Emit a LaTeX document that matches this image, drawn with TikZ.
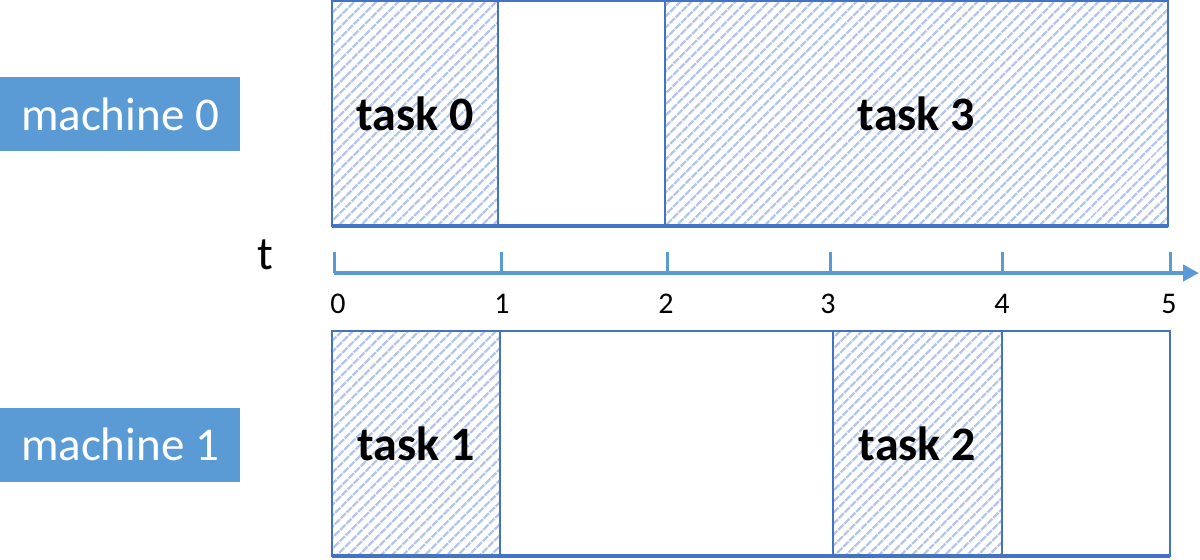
\documentclass[tikz,border=0pt]{standalone}
\usepackage{fontspec}
\setmainfont{Carlito}
\usetikzlibrary{positioning,patterns.meta,arrows.meta}
\definecolor{boxblue}{HTML}{5B9BD5}
\definecolor{edgeblue}{HTML}{4472C4}
\definecolor{hatchblue}{HTML}{B4C7E7}
\tikzset{
  machine/.style={fill=boxblue,text=white,font=\fontsize{23.5}{26}\selectfont,
    minimum width=120pt,minimum height=37pt,inner sep=0pt},
  slot/.style={draw=edgeblue,line width=1pt,inner sep=0pt,outer sep=0pt,
    minimum height=112.5pt,font=\bfseries\fontsize{24}{26}\selectfont},
  busy/.style={slot,pattern={Lines[angle=45,distance=4pt,line width=1.3pt]},
    pattern color=hatchblue},
  floor/.style={draw=edgeblue,line width=2pt},
  tick/.style={draw=boxblue,line width=1.5pt},
  ticklabel/.style={font=\fontsize{15}{17}\selectfont}
}
\begin{document}
\begin{tikzpicture}[x=0.5pt,y=-0.5pt]
\useasboundingbox (0,0) rectangle (1200,559);
% machine labels
\node[machine] (m0) at (120,114) {machine 0};
\node[machine] (m1) at (120,444.5) {machine 1};

% machine 0 schedule
\node[busy,minimum width=83pt] (t0) at (415,113.5) {task 0};
\node[slot,minimum width=83.5pt,right=0pt of t0] (g0) {};
\node[busy,minimum width=251.5pt,right=0pt of g0] (t3) {task 3};
\draw[floor] (t0.south west) -- (t3.south east);

% machine 1 schedule
\node[busy,minimum width=84pt] (t1) at (416,443.5) {task 1};
\node[slot,minimum width=166.5pt,right=0pt of t1] (g1) {};
\node[busy,minimum width=84.5pt,right=0pt of g1] (t2) {task 2};
\node[slot,minimum width=84pt,right=0pt of t2] (g2) {};
\draw[floor] (t1.south west) -- (g2.south east);

% time axis
\node[font=\fontsize{23.5}{26}\selectfont] (tlab) at (265,255) {t};
\foreach \i/\x/\lx in {0/334/338,1/501/502,2/667/666,3/830/828,4/1002/1002,5/1170/1169} {
  \coordinate (k\i) at (\x,273);
  \draw[tick] (k\i) -- ++(0,-21);
  \node[ticklabel] (n\i) at (\lx,304) {\i};
}
\coordinate (tip) at (1199,273);
\draw[boxblue,line width=2pt,-{Triangle[length=8pt,width=8pt]}] (k0) -- (tip);
\end{tikzpicture}
\end{document}
